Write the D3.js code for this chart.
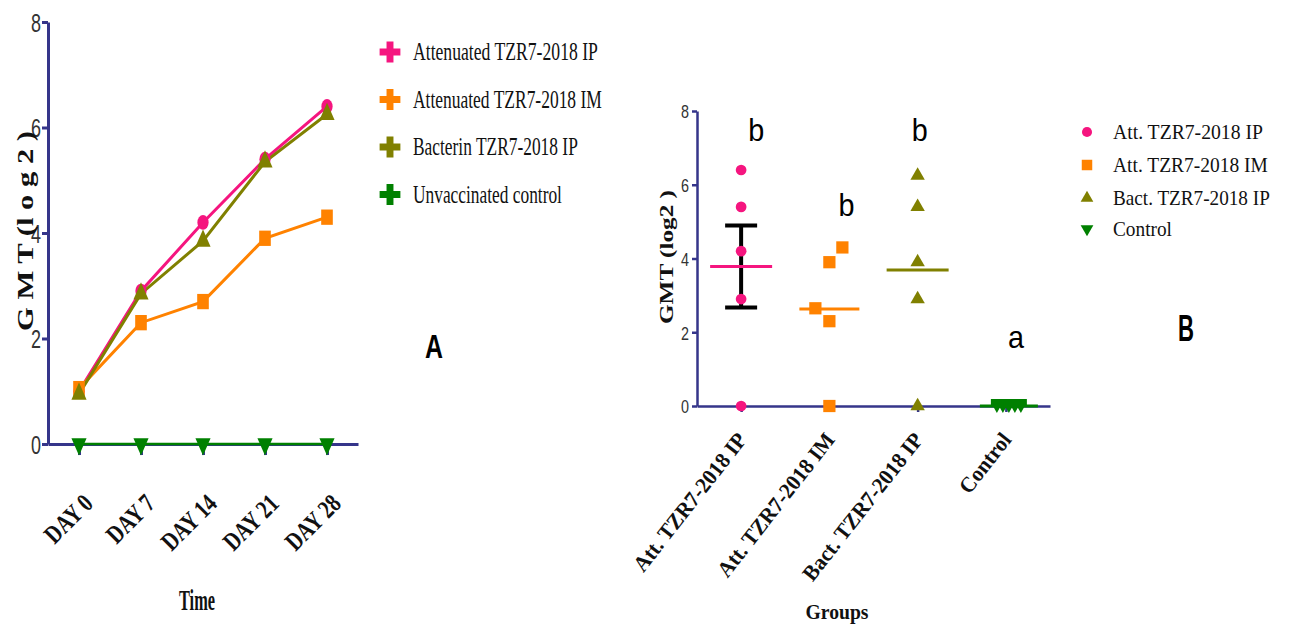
<!DOCTYPE html>
<html>
<head>
<meta charset="utf-8">
<script src="https://cdn.jsdelivr.net/npm/d3@7"></script>
<style>
  body { margin: 0; background: #fff; }
  svg { display: block; }
</style>
</head>
<body>
<svg id="chart" width="1289" height="631"></svg>
<script>
// Panel A: GMT over time
const days = ["DAY 0", "DAY 7", "DAY 14", "DAY 21", "DAY 28"];
const attIP = [1.0, 2.9, 4.2, 5.4, 6.4];
const attIM = [1.05, 2.3, 2.7, 3.9, 4.3];
const bactIP = [0.95, 2.85, 3.85, 5.35, 6.25];
const unvacc = [0, 0, 0, 0, 0];
const seriesNames = ["Attenuated TZR7-2018 IP", "Attenuated TZR7-2018 IM", "Bacterin TZR7-2018 IP", "Unvaccinated control"];

// Panel B: individual GMT per group
const groups = ["Att. TZR7-2018 IP", "Att. TZR7-2018 IM", "Bact. TZR7-2018 IP", "Control"];
const groupIP = [0, 2.9, 4.2, 5.4, 6.4];
const groupIM = [0, 2.3, 2.65, 3.9, 4.3];
const groupBact = [0, 2.9, 3.9, 5.4, 6.25];
const groupCtrl = [0, 0, 0, 0, 0];
const sigLetters = ["b", "b", "b", "a"];
const yTicks = [0, 2, 4, 6, 8];

const colors = ["#f5157f", "#ff8200", "#808000", "#008000"];
const navy = "#35358a";
const serif = "'Liberation Serif', 'Times New Roman', serif";
const sans = "'Liberation Sans', Arial, sans-serif";

const svg = d3.select("#chart");

// ---------- Panel A ----------
const xL = d3.scalePoint().domain(days).range([48, 358]).padding(0.5);
const yL = d3.scaleLinear().domain([0, 8]).range([444, 22]);

const gy = svg.append("g")
  .attr("transform", "translate(48,0)")
  .call(d3.axisLeft(yL).tickValues(yTicks).tickSize(6).tickSizeOuter(0));
gy.select(".domain").attr("stroke", navy).attr("stroke-width", 3);
gy.selectAll(".tick line").attr("stroke", navy).attr("stroke-width", 3);
gy.selectAll(".tick text")
  .attr("font-family", sans).attr("font-size", 25).attr("fill", "#333")
  .attr("x", -7).attr("dy", "0.36em")
  .attr("textLength", 10).attr("lengthAdjust", "spacingAndGlyphs");

const gx = svg.append("g")
  .attr("transform", "translate(0,444)")
  .call(d3.axisBottom(xL).tickSize(11).tickSizeOuter(0));
gx.select(".domain").attr("stroke", navy).attr("stroke-width", 3);
gx.selectAll(".tick line").attr("stroke", navy).attr("stroke-width", 3);
gx.selectAll(".tick text")
  .attr("font-family", serif).attr("font-weight", "bold").attr("font-size", 26).attr("fill", "#111")
  .attr("x", 0).attr("y", 0).attr("dy", 0)
  .attr("text-anchor", "end")
  .attr("transform", "translate(15,61) rotate(-45) scale(0.78,1)");

const seriesA = [attIP, attIM, bactIP, unvacc];
const symA = [d3.symbolCircle, d3.symbolSquare, d3.symbolTriangle, d3.symbolTriangle];
const line = d3.line().x((d, i) => xL(days[i])).y(d => yL(d));

seriesA.forEach((s, k) => {
  svg.append("path")
    .datum(s)
    .attr("fill", "none")
    .attr("stroke", colors[k])
    .attr("stroke-width", k === 3 ? 2.5 : 3)
    .attr("d", line);
});
seriesA.forEach((s, k) => {
  svg.selectAll(".mk" + k)
    .data(s)
    .enter()
    .append("path")
    .attr("d", d3.symbol().type(symA[k]).size(k === 1 ? 150 : 110))
    .attr("fill", colors[k])
    .attr("transform", (d, i) =>
      `translate(${xL(days[i])},${yL(d)}) scale(0.95,1.25)` + (k === 3 ? " rotate(180)" : ""));
});

// y label A
svg.append("text")
  .attr("transform", "translate(33,231) rotate(-90)")
  .attr("text-anchor", "middle")
  .attr("font-family", serif).attr("font-weight", "bold").attr("font-size", 24).attr("fill", "#111")
  .attr("textLength", 200).attr("lengthAdjust", "spacingAndGlyphs")
  .text("G M T (l o g 2 )");

svg.append("text")
  .attr("x", 197).attr("y", 610)
  .attr("text-anchor", "middle")
  .attr("font-family", serif).attr("font-weight", "bold").attr("font-size", 30).attr("fill", "#111")
  .attr("textLength", 36).attr("lengthAdjust", "spacingAndGlyphs")
  .text("Time");

// squeeze a text horizontally so it is `len` px wide
function condense(sel, len) {
  sel.each(function () {
    const w = this.getComputedTextLength();
    const t = d3.select(this);
    t.attr("transform", `translate(${t.attr("x")},${t.attr("y")}) scale(${len / w},1)`)
      .attr("x", 0).attr("y", 0);
  });
}

// legend A
const legLenA = [185, 189, 165, 149];
seriesNames.forEach((n, k) => {
  const cy = 52 + k * 47.5;
  svg.append("path")
    .attr("d", d3.symbol().type(d3.symbolCross).size(240))
    .attr("fill", colors[k])
    .attr("transform", `translate(390,${cy})`);
  svg.append("text")
    .attr("x", 413).attr("y", cy + 8)
    .attr("font-family", serif).attr("font-size", 25).attr("fill", "#111")
    .text(n)
    .call(condense, legLenA[k]);
});

svg.append("text")
  .attr("x", 434).attr("y", 358)
  .attr("text-anchor", "middle")
  .attr("font-family", sans).attr("font-weight", "bold")
  .attr("font-size", 34).attr("fill", "#000")
  .attr("textLength", 18).attr("lengthAdjust", "spacingAndGlyphs")
  .text("A");

// ---------- Panel B ----------
const xR = d3.scalePoint().domain(groups).range([697, 1050]).padding(0.5);
const yR = d3.scaleLinear().domain([0, 8]).range([406, 111]);

const gyR = svg.append("g")
  .attr("transform", "translate(697,0)")
  .call(d3.axisLeft(yR).tickValues(yTicks).tickSize(5).tickSizeOuter(0));
gyR.select(".domain").attr("stroke", navy).attr("stroke-width", 2.5);
gyR.selectAll(".tick line").attr("stroke", navy).attr("stroke-width", 2.5);
gyR.selectAll(".tick text")
  .attr("font-family", sans).attr("font-size", 19).attr("fill", "#333")
  .attr("x", -8).attr("dy", "0.36em")
  .attr("textLength", 8).attr("lengthAdjust", "spacingAndGlyphs");

const gxR = svg.append("g")
  .attr("transform", "translate(0,406)")
  .call(d3.axisBottom(xR).tickSize(6).tickSizeOuter(0));
gxR.select(".domain").attr("stroke", navy).attr("stroke-width", 2.5);
gxR.selectAll(".tick line").attr("stroke", navy).attr("stroke-width", 2.5);
gxR.selectAll(".tick text")
  .attr("font-family", serif).attr("font-weight", "bold").attr("font-size", 22).attr("fill", "#111")
  .attr("x", 0).attr("y", 0).attr("dy", 0)
  .attr("text-anchor", "end")
  .attr("transform", "translate(6,34) rotate(-52) scale(0.96,1)");

// small horizontal offsets for overlapping points (layout only)
const jitter = [[0, 0, 0, 0, 0], [0, 0, -14, 0, 13], [0, 0, 0, 0, 0], [-12, -6, 0, 6, 12]];
const seriesB = [groupIP, groupIM, groupBact, groupCtrl];
const symB = [d3.symbolCircle, d3.symbolSquare, d3.symbolTriangle, d3.symbolTriangle];
const sizeB = [90, 150, 90, 45];
const meanHalf = [31, 30, 31, 29];

// error bar (mean +/- SEM) on first group
{
  const m = d3.mean(groupIP);
  const sem = d3.deviation(groupIP) / Math.sqrt(groupIP.length);
  const cx = xR(groups[0]);
  const eb = svg.append("g").attr("stroke", "#000").attr("stroke-width", 4);
  eb.append("line").attr("x1", cx).attr("x2", cx).attr("y1", yR(m - sem)).attr("y2", yR(m + sem));
  eb.append("line").attr("x1", cx - 16).attr("x2", cx + 16).attr("y1", yR(m - sem)).attr("y2", yR(m - sem));
  eb.append("line").attr("x1", cx - 16).attr("x2", cx + 16).attr("y1", yR(m + sem)).attr("y2", yR(m + sem));
}

seriesB.forEach((s, k) => {
  const cx = xR(groups[k]) + (k === 3 ? 3 : 0);
  const m = d3.mean(s);
  svg.append("line")
    .attr("x1", cx - meanHalf[k]).attr("x2", cx + meanHalf[k])
    .attr("y1", yR(m)).attr("y2", yR(m))
    .attr("stroke", colors[k]).attr("stroke-width", 3);
  if (k === 3) {
    svg.append("rect")
      .attr("x", cx - 18).attr("y", yR(0) - 7).attr("width", 36).attr("height", 7)
      .attr("fill", colors[k]);
  }
  svg.selectAll(".pt" + k)
    .data(s)
    .enter()
    .append("path")
    .attr("d", d3.symbol().type(symB[k]).size(sizeB[k]))
    .attr("fill", colors[k])
    .attr("transform", (d, i) =>
      `translate(${cx + jitter[k][i]},${yR(d) + (k === 3 ? 1 : 0)})` + (k === 3 ? " rotate(180)" : ""));
});

// significance letters
const letterY = [7.2, 5.15, 7.2, 1.58];
sigLetters.forEach((l, k) => {
  svg.append("text")
    .attr("x", xR(groups[k]) + [15, 17, 2, 10][k]).attr("y", yR(letterY[k]))
    .attr("text-anchor", "middle")
    .attr("font-family", sans)
    .attr("font-size", 32).attr("fill", "#000")
    .attr("textLength", 16).attr("lengthAdjust", "spacingAndGlyphs")
    .text(l);
});

svg.append("text")
  .attr("transform", "translate(673,257) rotate(-90)")
  .attr("text-anchor", "middle")
  .attr("font-family", serif).attr("font-weight", "bold").attr("font-size", 19).attr("fill", "#111")
  .attr("textLength", 134).attr("lengthAdjust", "spacingAndGlyphs")
  .text("GMT (log2 )");

svg.append("text")
  .attr("x", 837).attr("y", 619)
  .attr("text-anchor", "middle")
  .attr("font-family", serif).attr("font-weight", "bold").attr("font-size", 21).attr("fill", "#111")
  .attr("textLength", 63).attr("lengthAdjust", "spacingAndGlyphs")
  .text("Groups");

// legend B
const legY = [132, 165, 198, 229];
const legLenB = [150, 155, 157, 59];
const legSize = [80, 110, 70, 70];
groups.forEach((g, k) => {
  svg.append("path")
    .attr("d", d3.symbol().type(symB[k]).size(legSize[k]))
    .attr("fill", colors[k])
    .attr("transform", `translate(1087,${legY[k]})` + (k === 3 ? " rotate(180)" : ""));
  svg.append("text")
    .attr("x", 1113).attr("y", legY[k] + 7)
    .attr("font-family", serif).attr("font-size", 22).attr("fill", "#111")
    .text(g)
    .call(condense, legLenB[k]);
});

svg.append("text")
  .attr("x", 1186).attr("y", 341)
  .attr("text-anchor", "middle")
  .attr("font-family", sans).attr("font-weight", "bold")
  .attr("font-size", 37).attr("fill", "#000")
  .attr("textLength", 16).attr("lengthAdjust", "spacingAndGlyphs")
  .text("B");
</script>
</body>
</html>
